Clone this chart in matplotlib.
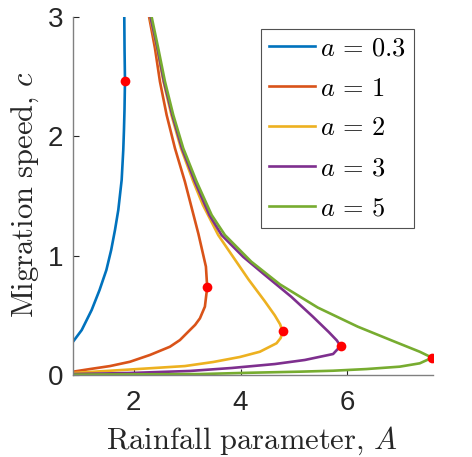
import matplotlib
matplotlib.use("Agg")
import matplotlib.pyplot as plt

plt.rcParams['mathtext.fontset'] = 'cm'
plt.rcParams['font.family'] = ['Liberation Sans', 'DejaVu Sans']

# curves: (A, c) pairs, upper branch first
A_03 = [1.825, 1.830, 1.838, 1.829, 1.819, 1.806, 1.776, 1.713, 1.651, 1.580, 1.490, 1.362, 1.215, 1.029, 0.866]
c_03 = [3.000, 2.724, 2.467, 2.221, 2.054, 1.886, 1.635, 1.383, 1.215, 1.048, 0.880, 0.712, 0.545, 0.377, 0.279]

A_1 = [2.290, 2.399, 2.492, 2.617, 2.773, 2.959, 3.212, 3.352, 3.376, 3.333, 3.240, 3.150, 3.053, 2.866, 2.679, 2.305, 1.931, 1.558, 1.184, 0.866]
c_1 = [3.000, 2.738, 2.459, 2.179, 1.900, 1.620, 1.182, 0.908, 0.735, 0.573, 0.475, 0.420, 0.377, 0.293, 0.237, 0.168, 0.111, 0.075, 0.050, 0.028]

A_2 = [2.305, 2.436, 2.558, 2.707, 2.885, 3.118, 3.296, 3.582, 3.860, 4.150, 4.450, 4.640, 4.740, 4.786, 4.750, 4.673, 4.361, 3.987, 3.488, 2.959, 1.931, 0.866]
c_2 = [3.000, 2.738, 2.459, 2.179, 1.900, 1.620, 1.425, 1.173, 0.990, 0.800, 0.620, 0.500, 0.425, 0.365, 0.310, 0.266, 0.195, 0.151, 0.109, 0.075, 0.046, 0.017]

A_3 = [2.315, 2.445, 2.567, 2.722, 2.903, 3.146, 3.417, 3.645, 4.050, 4.450, 4.950, 5.350, 5.650, 5.800, 5.870, 5.731, 5.202, 4.642, 3.838, 3.053, 1.931, 0.866]
c_3 = [3.000, 2.738, 2.459, 2.179, 1.900, 1.620, 1.341, 1.173, 0.990, 0.840, 0.655, 0.490, 0.360, 0.290, 0.243, 0.176, 0.126, 0.092, 0.059, 0.034, 0.017, 0.008]

A_5 = [2.337, 2.460, 2.586, 2.741, 2.928, 3.178, 3.459, 3.707, 4.200, 4.735, 5.445, 6.193, 6.885, 7.352, 7.582,
       7.352, 6.978, 6.356, 5.732, 5.109, 4.174, 3.240, 0.866]
c_5 = [3.000, 2.738, 2.459, 2.179, 1.900, 1.620, 1.341, 1.173, 0.950, 0.760, 0.565, 0.405, 0.279, 0.195, 0.145,
       0.098, 0.070, 0.050, 0.036, 0.028, 0.019, 0.008, 0.003]

# fold points (red dots)
fold_A = [1.840, 3.376, 4.786, 5.870, 7.582]
fold_c = [2.467, 0.735, 0.365, 0.243, 0.145]

labels = [r'$a\,=\,0.3$', r'$a\,=\,1$', r'$a\,=\,2$', r'$a\,=\,3$', r'$a\,=\,5$']
colors = ['#0072BD', '#D95319', '#EDB120', '#7E2F8E', '#77AC30']

fig = plt.figure(figsize=(4.72, 4.57), dpi=100)
ax = fig.add_axes([0.1547, 0.1794, 0.7627, 0.7834])

curves = [(A_03, c_03), (A_1, c_1), (A_2, c_2), (A_3, c_3), (A_5, c_5)]
for (A, c), lab, col in zip(curves, labels, colors):
    ax.plot(A, c, color=col, lw=1.9, label=lab, solid_joinstyle='round')
ax.plot(fold_A, fold_c, 'o', color='red', ms=7, mec='none', zorder=5)

ax.set_xlim(0.866, 7.6)
ax.set_ylim(0, 3)
ax.set_xticks([2, 4, 6])
ax.set_yticks([0, 1, 2, 3])

for s in ['top', 'right']:
    ax.spines[s].set_visible(False)
for s in ['left', 'bottom']:
    ax.spines[s].set_color('#808080')
    ax.spines[s].set_linewidth(1.0)
ax.tick_params(direction='in', length=4, width=0.8, color='#262626',
               labelsize=20, labelcolor='#262626')
ax.tick_params(axis='x', pad=11)
ax.tick_params(axis='y', pad=7)

ax.set_xlabel(r'$\mathrm{Rainfall\ parameter,}\,A$', fontsize=22, color='#262626')
ax.set_ylabel(r'$\mathrm{Migration\ speed,}\,c$', fontsize=22, color='#262626')
ax.xaxis.set_label_coords(0.496, -0.138)
ax.yaxis.set_label_coords(-0.09, 0.503)

leg = ax.legend(loc='upper left', fontsize=19, frameon=True, fancybox=False,
                handlelength=1.75, handletextpad=0.2, borderpad=0.3,
                labelspacing=0.6, borderaxespad=0.0, bbox_to_anchor=(0.522, 0.967))
leg.get_frame().set_edgecolor('#262626')
leg.get_frame().set_linewidth(0.8)

fig.savefig('out.png', dpi=100)
